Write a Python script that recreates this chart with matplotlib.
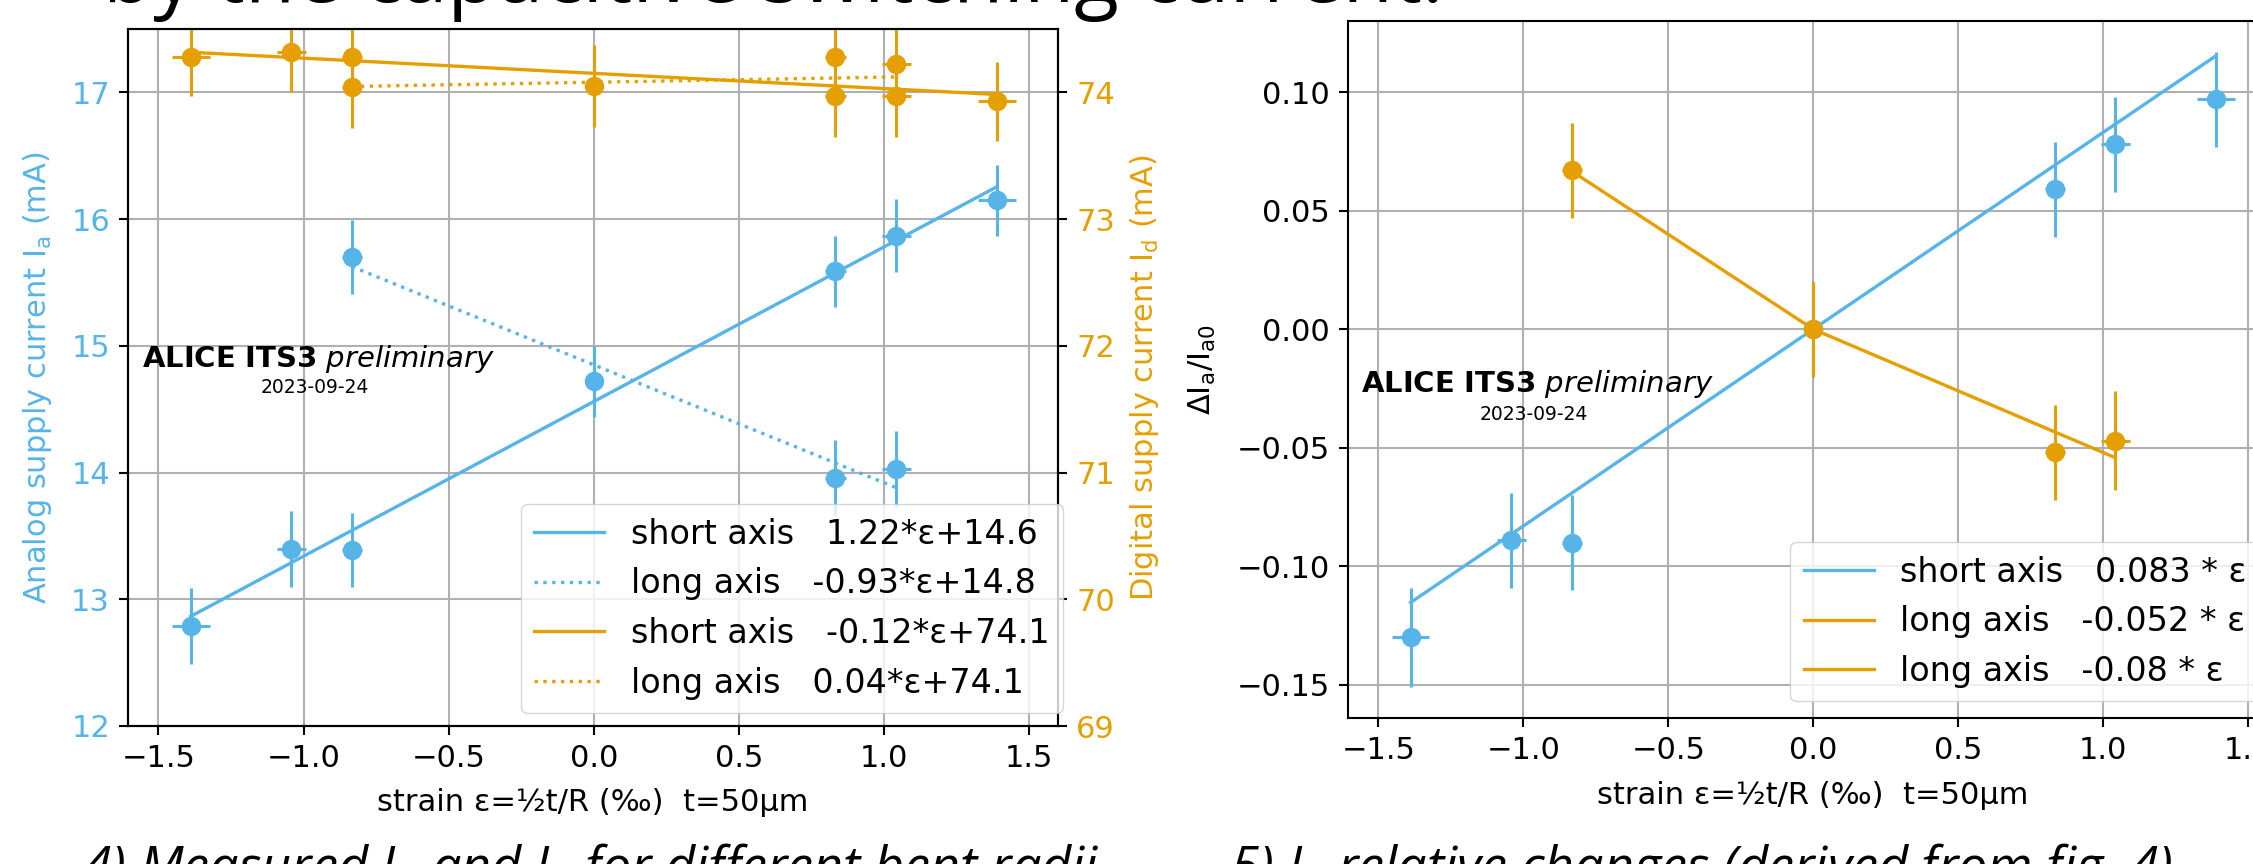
import matplotlib
matplotlib.use("Agg")
import matplotlib.pyplot as plt
import numpy as np

BLUE = "#56B4E9"
ORANGE = "#E69F00"

# strain eps = t/(2R) in permille for R = 18, 24, 30 mm (both bending directions)
strain = [-1.389, -1.042, -0.833, 0.0, 0.833, 1.042, 1.389]
strain_err = [0.065, 0.05, 0.035, 0.0, 0.035, 0.05, 0.065]

# fig 4: analog current, bent along short axis
ia_short = [12.79, 13.40, 13.39, 14.72, 15.59, 15.87, 16.15]
ia_short_err = [0.30, 0.30, 0.29, 0.28, 0.28, 0.29, 0.28]

# bent along long axis (flat point at 0 is shared)
strain_long = [-0.833, 0.833, 1.042]
strain_long_err = [0.035, 0.035, 0.05]
ia_long = [15.70, 13.96, 14.03]
ia_long_err = [0.29, 0.30, 0.30]

# fig 4: digital current
id_short = [74.28, 74.32, 74.28, 74.05, 73.97, 73.97, 73.93]
id_short_err = [0.31, 0.32, 0.32, 0.32, 0.32, 0.32, 0.31]
id_long = [74.04, 74.28, 74.22]
id_long_err = [0.32, 0.32, 0.32]

# linear fits (slope, offset) as drawn
fit_ia_short = (1.22, 14.56)
fit_ia_long = (-0.93, 14.85)
fit_id_short = (-0.12, 74.15)
fit_id_long = (0.04, 74.08)

fig4_labels = [
    "short axis   1.22*\u03b5+14.6",
    "long axis   -0.93*\u03b5+14.8",
    "short axis   -0.12*\u03b5+74.1",
    "long axis   0.04*\u03b5+74.1",
]

# fig 5: relative change of analog current
rel_short = [-0.130, -0.089, -0.090, 0.0, 0.059, 0.078, 0.097]
rel_short_err = [0.021, 0.020, 0.020, 0.020, 0.020, 0.020, 0.020]
strain_rel_long = [-0.833, 0.0, 0.833, 1.042]
strain_rel_long_err = [0.035, 0.0, 0.035, 0.05]
rel_long = [0.067, 0.0, -0.052, -0.047]
rel_long_err = [0.020, 0.020, 0.020, 0.021]

slope_rel_short = 0.083
slope_rel_long_pos = -0.052
slope_rel_long_neg = -0.08

fig5_labels = [
    "short axis   0.083 * \u03b5",
    "long axis   -0.052 * \u03b5",
    "long axis   -0.08 * \u03b5",
]

plt.rcParams["font.size"] = 22
plt.rcParams["axes.linewidth"] = 1.5
plt.rcParams["xtick.major.size"] = 6.5
plt.rcParams["ytick.major.size"] = 6.5
plt.rcParams["xtick.major.width"] = 1.5
plt.rcParams["ytick.major.width"] = 1.5
plt.rcParams["xtick.major.pad"] = 6.5
plt.rcParams["ytick.major.pad"] = 6.5
plt.rcParams["grid.linewidth"] = 1.5
plt.rcParams["legend.fontsize"] = 24
plt.rcParams["legend.handlelength"] = 2.1

LW = 2.4
MS = 13
ELW = 2.2

W, H = 2253, 864
fig = plt.figure(figsize=(W / 100, H / 100), dpi=100)


def px_axes(x0, y0, x1, y1):
    return [x0 / W, 1 - y1 / H, (x1 - x0) / W, (y1 - y0) / H]


def errbar(ax, x, y, yerr, xerr, color):
    ax.errorbar(x, y, yerr=yerr, xerr=xerr, fmt="o", color=color, ms=MS,
                elinewidth=ELW, capsize=0)


def fit_line(ax, xs, fit, color, ls):
    xr = np.array([min(xs), max(xs)])
    return ax.plot(xr, fit[0] * xr + fit[1], color=color, lw=LW, ls=ls)[0]


# ---------------- fig 4 ----------------
ax = fig.add_axes(px_axes(128, 29, 1058, 726))
ax2 = ax.twinx()

errbar(ax, strain, ia_short, ia_short_err, strain_err, BLUE)
errbar(ax, strain_long, ia_long, ia_long_err, strain_long_err, BLUE)
h1 = fit_line(ax, strain, fit_ia_short, BLUE, "-")
h2 = fit_line(ax, strain_long + [0.0], fit_ia_long, BLUE, ":")

errbar(ax2, strain, id_short, id_short_err, strain_err, ORANGE)
errbar(ax2, strain_long, id_long, id_long_err, strain_long_err, ORANGE)
h3 = fit_line(ax2, strain, fit_id_short, ORANGE, "-")
h4 = fit_line(ax2, strain_long + [0.0], fit_id_long, ORANGE, ":")

ax.set_xlim(-1.605, 1.6)
ax.set_ylim(12, 17.5)
ax2.set_ylim(69, 74.5)
ax.set_yticks([12, 13, 14, 15, 16, 17])
ax2.set_yticks([69, 70, 71, 72, 73, 74])
ax.grid(True)
ax.tick_params(axis="y", labelcolor=BLUE)
ax2.tick_params(axis="y", labelcolor=ORANGE)

ax.set_xlabel("strain \u03b5=\u00bdt/R (\u2030)  t=50\u03bcm", va="top")
ax.xaxis.set_label_coords(0.5, -0.089)
ax.set_ylabel(r"Analog supply current I$_\mathregular{a}$ (mA)", color=BLUE)
ax.yaxis.set_label_coords(-0.08, 0.5)
ax2.set_ylabel(r"Digital supply current I$_\mathregular{d}$ (mA)", color=ORANGE)
ax2.yaxis.set_label_coords(1.075, 0.5)

ax.text(0.0146, 0.515, r"$\bf{ALICE\ ITS3}$ $\it{preliminary}$",
        transform=ax.transAxes, fontsize=21, va="baseline")
ax.text(0.201, 0.478, "2023-09-24", transform=ax.transAxes, fontsize=13.5,
        ha="center", va="baseline")

ax2.legend([h1, h2, h3, h4], fig4_labels, loc="lower right",
           bbox_to_anchor=(1.0054, 0.0187), borderaxespad=0)

# ---------------- fig 5 ----------------
bx = fig.add_axes(px_axes(1348, 21, 2277, 718))
errbar(bx, strain, rel_short, rel_short_err, strain_err, BLUE)
errbar(bx, strain_rel_long, rel_long, rel_long_err, strain_rel_long_err, ORANGE)

xs = np.array([min(strain), max(strain)])
g1 = bx.plot(xs, slope_rel_short * xs, color=BLUE, lw=LW)[0]
xs = np.array([0.0, max(strain_rel_long)])
g2 = bx.plot(xs, slope_rel_long_pos * xs, color=ORANGE, lw=LW)[0]
xs = np.array([min(strain_rel_long), 0.0])
g3 = bx.plot(xs, slope_rel_long_neg * xs, color=ORANGE, lw=LW)[0]

bx.set_xlim(-1.605, 1.6)
bx.set_ylim(-0.164, 0.130)
bx.set_yticks([-0.15, -0.10, -0.05, 0.0, 0.05, 0.10])
bx.grid(True)
bx.set_xlabel("strain \u03b5=\u00bdt/R (\u2030)  t=50\u03bcm", va="top")
bx.xaxis.set_label_coords(0.5, -0.090)
bx.set_ylabel(r"$\mathregular{\Delta I_a/I_{a0}}$")
bx.yaxis.set_label_coords(-0.14, 0.5)

bx.text(0.014, 0.468, r"$\bf{ALICE\ ITS3}$ $\it{preliminary}$",
        transform=bx.transAxes, fontsize=21, va="baseline")
bx.text(0.200, 0.4275, "2023-09-24", transform=bx.transAxes, fontsize=13.5,
        ha="center", va="baseline")

bx.legend([g1, g2, g3], fig5_labels, loc="lower right")

# ---------------- slide text around the plots ----------------
fig.text(103 / W, 1 - 2 / H, "by the capacitive switching current.",
         family="Open Sans", fontsize=59, va="baseline")
fig.text(82 / W, -19 / H,
         r"4) Measured I$_\mathregular{a}$ and I$_\mathregular{d}$ for different bent radii",
         family="Open Sans", style="italic", fontsize=37.5, va="baseline")
fig.text(1230 / W, -19 / H,
         r"5) I$_\mathregular{a}$ relative changes (derived from fig. 4)",
         family="Open Sans", style="italic", fontsize=37.5, va="baseline")

fig.savefig("out.png", dpi=100)
